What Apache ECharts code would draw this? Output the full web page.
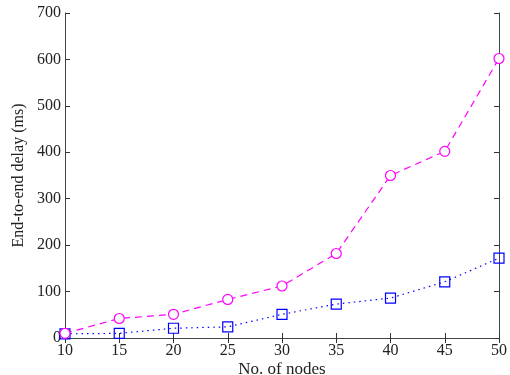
<!DOCTYPE html>
<html lang="en">
<head>
    <meta charset="UTF-8">
    <title>End-to-end delay</title>
    <script src="https://cdn.jsdelivr.net/npm/echarts@6/dist/echarts.min.js"></script>
    <style>
        body { margin: 0; background: #fff; }
    </style>
</head>
<body>
<div id="main" style="width:510px; height:375px;"></div>
</body>
<script type="text/javascript">

    // number of nodes
    let nodes = [10, 15, 20, 25, 30, 35, 40, 45, 50];
    // delay (ms), magenta circles / dashed
    let delayA = [10, 42, 51, 83, 112, 182, 350, 402, 602];
    // delay (ms), blue squares / dotted
    let delayB = [9, 10, 21, 24, 51, 73, 86, 121, 172];

    let serif = '"Liberation Serif", "DejaVu Serif", serif';

    let myChart = echarts.init(document.getElementById('main'));

    let axisLine = { show: true, lineStyle: { color: '#444', width: 1 } };
    let tick = { show: true, inside: true, length: 5, lineStyle: { color: '#333' } };

    let option = {
        animation: false,
        grid: { left: 65, right: 11, top: 13, bottom: 37, outerBoundsMode: 'none' },
        xAxis: [{
            type: 'value',
            min: 10, max: 50, interval: 5,
            name: 'No. of nodes',
            nameLocation: 'middle',
            nameGap: 23,
            nameMoveOverlap: false,
            nameTextStyle: { fontFamily: serif, fontSize: 17, color: '#222' },
            axisLine: axisLine,
            axisTick: tick,
            axisLabel: { fontFamily: serif, fontSize: 16, color: '#222', margin: 5 },
            splitLine: { show: false }
        }, {
            type: 'value', position: 'top',
            min: 10, max: 50, interval: 5,
            axisLine: axisLine,
            axisTick: tick,
            axisLabel: { show: false },
            splitLine: { show: false }
        }],
        yAxis: [{
            type: 'value',
            min: 0, max: 700, interval: 100,
            name: 'End-to-end delay (ms)',
            nameLocation: 'middle',
            nameGap: 38,
            nameMoveOverlap: false,
            nameTextStyle: { fontFamily: serif, fontSize: 16, color: '#222' },
            axisLine: axisLine,
            axisTick: tick,
            axisLabel: { fontFamily: serif, fontSize: 16, color: '#222', margin: 4 },
            splitLine: { show: false }
        }, {
            type: 'value', position: 'right',
            min: 0, max: 700, interval: 100,
            axisLine: axisLine,
            axisTick: tick,
            axisLabel: { show: false },
            splitLine: { show: false }
        }],
        series: [{
            type: 'line',
            data: nodes.map((n, i) => [n, delayA[i]]),
            symbol: 'circle',
            symbolSize: 10,
            showAllSymbol: true,
            itemStyle: { color: '#fff', borderColor: '#ff00ff', borderWidth: 1.2 },
            lineStyle: { color: '#ff00ff', width: 1.2, type: [7, 5] },
            z: 3
        }, {
            type: 'line',
            data: nodes.map((n, i) => [n, delayB[i]]),
            symbol: 'rect',
            symbolSize: 10,
            showAllSymbol: true,
            itemStyle: { color: 'rgba(255,255,255,0)', borderColor: '#0000ff', borderWidth: 1.2 },
            lineStyle: { color: '#0000ff', width: 1.2, type: [1.5, 4] },
            z: 2
        }]
    };

    myChart.setOption(option);
</script>
</html>
